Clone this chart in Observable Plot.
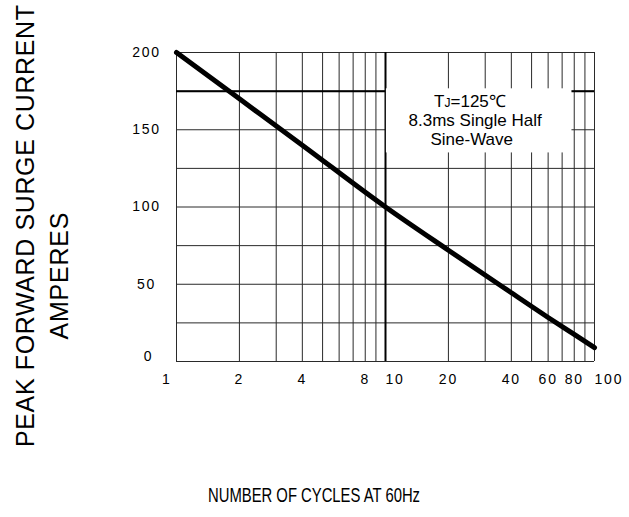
<!DOCTYPE html>
<html>
<head>
<meta charset="utf-8">
<script src="https://cdn.jsdelivr.net/npm/d3@7"></script>
<script src="https://cdn.jsdelivr.net/npm/@observablehq/plot@0.6"></script>
<style>
  html, body { margin: 0; padding: 0; background: #fff; }
  svg { font-family: "Liberation Sans", Arial, sans-serif; }
  .tk { letter-spacing: 1.8px; }
</style>
</head>
<body>
<div id="chart"></div>
<script>
// Data
const cycles = [1, 2, 4, 10, 20, 40, 60, 80, 100];
const current = [200, 170, 140, 100, 72, 44.5, 28.5, 17.5, 9];

const xGrid = [1, 2, 3, 4, 5, 6, 7, 8, 9, 10, 20, 30, 40, 50, 60, 70, 80, 90, 100];
const yGrid = [0, 25, 50, 75, 100, 125, 150, 175, 200];
const xTickMid = [2, 4, 8, 20, 40, 60, 80];
const xTickStart = [10, 100];
const xTickEnd = [1];
const yTicks = [50, 100, 150, 200];
const yTickZero = [0];
const heavyX = [10];
const heavyY = [175];

// annotation box (data coords) and text
const boxX = [10.1, 78];
const boxY = [135, 176.5];
const annoLines = ["8.3ms Single Half", "Sine-Wave"];

const yTitle1 = "PEAK FORWARD SURGE CURRENT";
const yTitle2 = "AMPERES";
const xTitle = "NUMBER OF CYCLES AT 60Hz";

const curve = cycles.map((c, i) => ({c, v: current[i]}));

const plot = Plot.plot({
  width: 629,
  height: 517,
  marginLeft: 176,
  marginRight: 35,
  marginTop: 52,
  marginBottom: 156,
  x: {type: "log", domain: [1, 100], axis: null},
  y: {domain: [0, 200], axis: null},
  marks: [
    Plot.ruleX(xGrid, {x: d => d, y1: 0, y2: 200, stroke: "#2a2a2a", strokeWidth: 1}),
    Plot.ruleY(yGrid, {y: d => d, x1: 1, x2: 100, stroke: "#2a2a2a", strokeWidth: 1}),
    Plot.ruleX(heavyX, {x: d => d, y1: 0, y2: 200, stroke: "#000", strokeWidth: 2}),
    Plot.ruleY(heavyY, {y: d => d, x1: 1, x2: 100, stroke: "#000", strokeWidth: 2}),
    Plot.rect([0], {x1: boxX[0], x2: boxX[1], y1: boxY[0], y2: boxY[1], fill: "#fff"}),
    Plot.line(curve, {x: "c", y: "v", stroke: "#000", strokeWidth: 5, strokeLinecap: "round", strokeLinejoin: "round", curve: "monotone-x"}),
    Plot.text(xTickMid, {x: d => d, y: 0, text: d => String(d), dy: 18, fontSize: 14, fill: "#000", textAnchor: "middle", className: "tk"}),
    Plot.text(xTickStart, {x: d => d, y: 0, text: d => String(d), dy: 18, fontSize: 14, fill: "#000", textAnchor: "start", className: "tk"}),
    Plot.text(xTickEnd, {x: d => d, y: 0, text: d => String(d), dy: 18, dx: -5, fontSize: 14, fill: "#000", textAnchor: "end", className: "tk"}),
    Plot.text(yTicks, {x: 1, y: d => d, text: d => String(d), dx: -30, fontSize: 14, fill: "#000", textAnchor: "middle", className: "tk"}),
    Plot.text(yTickZero, {x: 1, y: d => d, text: d => String(d), dx: -28, dy: -5, fontSize: 14, fill: "#000", textAnchor: "middle", className: "tk"})
  ]
});

document.getElementById("chart").appendChild(plot);

const svg = d3.select(plot);
const sx = plot.scale("x");
const sy = plot.scale("y");

// annotation text
const t1 = svg.append("text")
  .attr("x", sx.apply(25.5)).attr("y", sy.apply(164.5))
  .attr("text-anchor", "middle")
  .attr("font-size", 17).attr("fill", "#000");
t1.append("tspan").text("T");
t1.append("tspan").attr("font-size", 12).text("J");
t1.append("tspan").text("=125℃");
svg.append("text")
  .attr("x", sx.apply(27)).attr("y", sy.apply(152))
  .attr("text-anchor", "middle")
  .attr("font-size", 17).attr("fill", "#000")
  .text(annoLines[0]);
svg.append("text")
  .attr("x", sx.apply(26)).attr("y", sy.apply(140))
  .attr("text-anchor", "middle")
  .attr("font-size", 17).attr("fill", "#000")
  .text(annoLines[1]);

// axis titles
svg.append("text")
  .attr("transform", "translate(34,226) rotate(-90)")
  .attr("text-anchor", "middle")
  .attr("font-size", 25).attr("fill", "#000")
  .attr("textLength", 442).attr("lengthAdjust", "spacing")
  .text(yTitle1);
svg.append("text")
  .attr("transform", "translate(68,276) rotate(-90)")
  .attr("text-anchor", "middle")
  .attr("font-size", 25).attr("fill", "#000")
  .attr("textLength", 127).attr("lengthAdjust", "spacing")
  .text(yTitle2);
svg.append("text")
  .attr("x", 314).attr("y", 502)
  .attr("text-anchor", "middle")
  .attr("font-size", 21).attr("fill", "#000")
  .attr("textLength", 212).attr("lengthAdjust", "spacingAndGlyphs")
  .text(xTitle);
</script>
</body>
</html>
